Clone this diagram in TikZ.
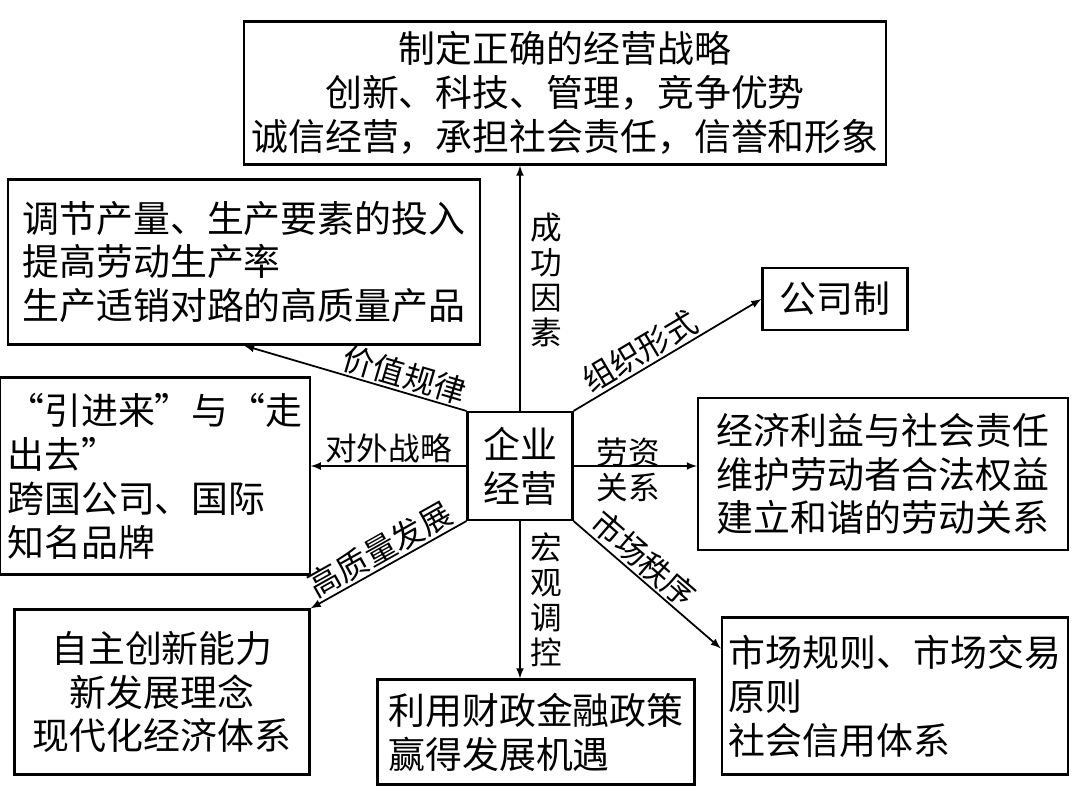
\documentclass[tikz,border=0pt]{standalone}
\usepackage{fontspec}
\setmainfont{Noto Sans CJK SC}
\usetikzlibrary{arrows,calc}
\begin{document}
\begin{tikzpicture}[x=0.02cm,y=-0.02cm]
    \tikzset{box/.style={draw,line width=1.2pt,inner sep=4pt,font=\fontsize{21}{25}\selectfont},
      lab/.style={inner sep=1pt,font=\fontsize{18}{20}\selectfont},
      link/.style={line width=1pt,-latex}}
    \useasboundingbox (0,0) rectangle (1080,796);
    \node[box,minimum width=2.1cm,minimum height=2.16cm,align=center] (core) at (520,466) {企业\\经营};
    \node[box,minimum width=12.4cm,minimum height=2.86cm,align=center] (goal) at (565,93)
      {制定正确的经营战略\\创新、科技、管理，竞争优势\\诚信经营，承担社会责任，信誉和形象};
    \node[box,minimum width=9.44cm,minimum height=3.3cm,align=left] (law) at (244,262)
      {调节产量、生产要素的投入\\提高劳动生产率\\生产适销对路的高质量产品};
    \node[box,minimum width=5.88cm,minimum height=3.94cm,align=left] (open) at (155,476)
      {“引进来”与“走\\出去”\\跨国公司、国际\\知名品牌};
    \node[box,minimum width=5.9cm,minimum height=3.3cm,align=center] (quality) at (162,692)
      {自主创新能力\\新发展理念\\现代化经济体系};
    \node[box,minimum width=6.34cm,minimum height=2.1cm,align=left] (macro) at (536,732)
      {利用财政金融政策\\赢得发展机遇};
    \node[box,minimum width=2.9cm,minimum height=1.24cm] (corp) at (835,299) {公司制};
    \node[box,minimum width=7.4cm,minimum height=3.04cm,align=left] (labor) at (883,474)
      {经济利益与社会责任\\维护劳动者合法权益\\建立和谐的劳动关系};
    \node[box,minimum width=6.92cm,minimum height=3.14cm,align=left] (market) at (895,696)
      {市场规则、市场交易\\原则\\社会信用体系};
    % connectors
    \draw[link] (core.north) -- (core.north |- goal.south);
    \node[lab,align=center] (lbsuccess) at (546,280) {成\\功\\因\\素};
    \draw[link] (core.north west) -- node[lab,pos=0.3,above,sloped] (lblaw) {价值规律} (law.south);
    \draw[link] (core.west) -- node[lab,pos=0.5,above] (lbopen) {对外战略} (core.west -| open.east);
    \draw[link] (core.south west) -- node[lab,pos=0.5,above,sloped] (lbquality) {高质量发展} (quality.north east);
    \draw[link] (core.south) -- (core.south |- macro.north);
    \node[lab,align=center] (lbmacro) at (546,600) {宏\\观\\调\\控};
    \draw[link] (core.south east) -- node[lab,pos=0.4,above,sloped] (lbmarket) {市场秩序} ($(market.north west)+(0,32)$);
    \draw[link] (core.east) -- (core.east -| labor.west);
    \node[lab,align=center] (lblabor) at (628,470) {劳资\\关系};
    \draw[link] (core.north east) -- node[lab,pos=0.4,above,sloped] (lbform) {组织形式} (corp.west);
\end{tikzpicture}
\end{document}
